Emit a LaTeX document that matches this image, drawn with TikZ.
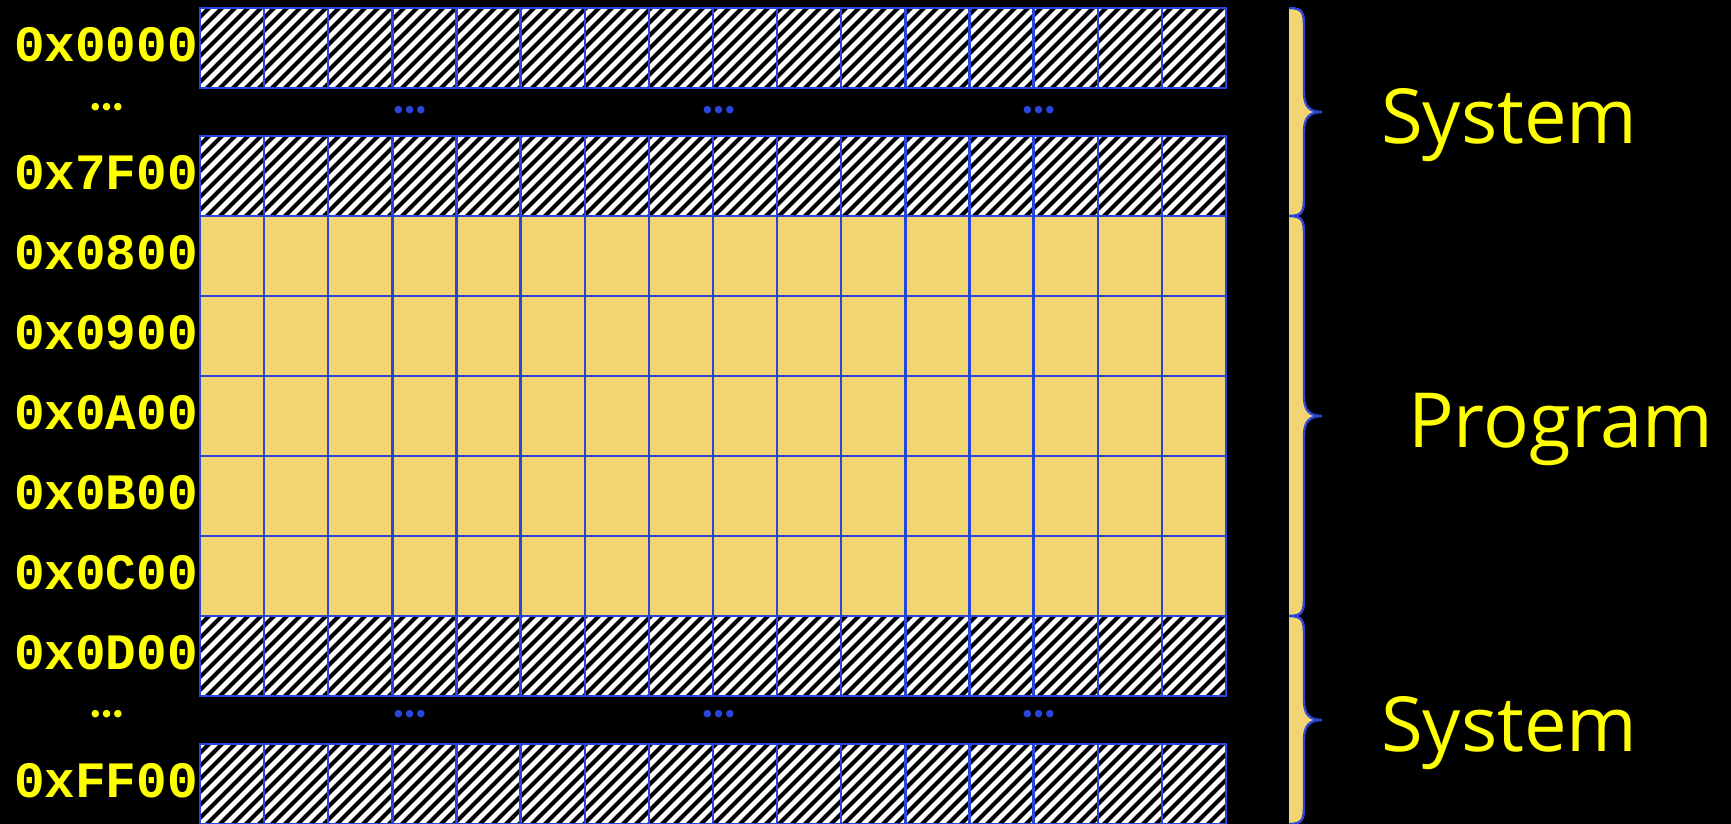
\documentclass[tikz,border=0pt]{standalone}
\usepackage{fontspec}
\newfontfamily\addrfont{Liberation Mono}
\newfontfamily\labfont{Open Sans}
\newfontfamily\dotfont{Poppins}
\definecolor{gblue}{RGB}{42,69,220}
\definecolor{pyellow}{RGB}{242,213,114}
\definecolor{tyellow}{RGB}{255,255,0}
\begin{document}
\begin{tikzpicture}[x=1pt,y=-1pt,
  gridline/.style={draw=gblue,line width=2.4pt},
  hatchline/.style={draw=black,line width=4.2pt},
  addr/.style={anchor=east,inner sep=0pt,text=tyellow,font=\addrfont\bfseries\fontsize{51}{51}\selectfont},
  syslab/.style={anchor=base west,inner sep=0pt,text=tyellow,font=\labfont\fontsize{76}{76}\selectfont},
  ydots/.style={inner sep=0pt,text=tyellow,font=\dotfont\fontsize{60}{60}\selectfont},
  bdots/.style={inner sep=0pt,text=gblue,font=\dotfont\fontsize{60}{60}\selectfont},
  bracefill/.style={fill=pyellow},
  braceline/.style={draw=gblue,line width=2.4pt}]
\useasboundingbox (0,0) rectangle (1731,824);
\fill[black] (0,0) rectangle (1731,824);
% hatched rows
\foreach \t in {8,136,616,744} {
  \begin{scope}
    \clip (200,\t) rectangle (1226,\t+80);
    \fill[white] (200,\t) rectangle (1226,\t+80);
    \foreach \x in {112,125,...,1240} {
      \draw[hatchline] (\x,\t+84) -- (\x+88,\t-4);
    }
  \end{scope}
}
% program rows
\fill[pyellow] (200,216) rectangle (1226,616);
% grid lines
\foreach \a/\b in {8/88,136/696,744/824} {
  \foreach \i in {0,...,16} {
    \draw[gridline] (200+\i*64.125,\a) -- (200+\i*64.125,\b);
  }
}
\foreach \y in {8,88,136,216,296,376,456,536,616,696,744,824} {
  \draw[gridline] (198.8,\y) -- (1227.2,\y);
}
% address labels
\foreach \lab/\y in {0x0000/48,0x7F00/176,0x0800/256,0x0900/336,0x0A00/416,0x0B00/496,0x0C00/576,0x0D00/656,0xFF00/784} {
  \node[addr] (a\y) at (198,\y-3) {\lab};
}
% ellipses
\node[ydots] (yd1) at (107,107) {…};
\node[ydots] (yd2) at (107,714) {…};
\foreach \x in {410,719,1039} {
  \node[bdots] (bd1\x) at (\x,110) {…};
  \node[bdots] (bd2\x) at (\x,714) {…};
}
% braces
\foreach \t/\b/\m in {8/216/112,216/616/416,616/824/720} {
  \fill[bracefill] (1289,\t) .. controls (1304,\t) and (1304,\t+6) .. (1304,\t+20)
    -- (1304,\m-20) .. controls (1304,\m-5) and (1310,\m) .. (1322,\m)
    .. controls (1310,\m) and (1304,\m+5) .. (1304,\m+20)
    -- (1304,\b-20) .. controls (1304,\b-6) and (1304,\b) .. (1289,\b) -- cycle;
  \draw[braceline] (1289,\t) .. controls (1304,\t) and (1304,\t+6) .. (1304,\t+20)
    -- (1304,\m-20) .. controls (1304,\m-5) and (1310,\m) .. (1322,\m)
    .. controls (1310,\m) and (1304,\m+5) .. (1304,\m+20)
    -- (1304,\b-20) .. controls (1304,\b-6) and (1304,\b) .. (1289,\b);
}
% region labels
\node[syslab] (sys1) at (1381,143) {System};
\node[syslab] (prog) at (1408,447) {Program};
\node[syslab] (sys2) at (1381,751) {System};
\end{tikzpicture}
\end{document}
